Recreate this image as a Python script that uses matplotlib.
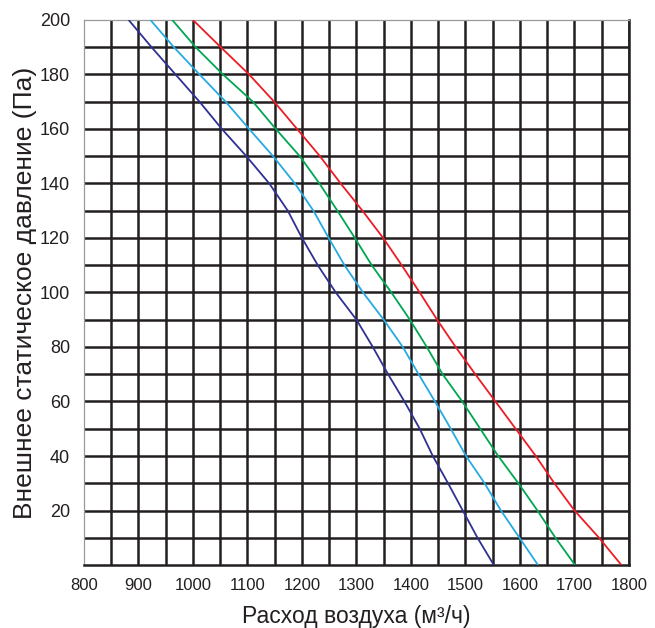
import matplotlib
matplotlib.use("Agg")
import matplotlib.pyplot as plt
import numpy as np

plt.rcParams['font.family'] = ['Liberation Sans', 'DejaVu Sans']

# Pressure levels (Pa) at which the curves were read
pressure = [200, 190, 180, 170, 160, 150, 140, 130, 120, 110, 100,
            90, 80, 70, 60, 50, 40, 30, 20, 10, 0]

# Airflow (m3/h) for each curve at the pressure levels above
flow_navy = [882, 924, 968, 1012, 1053, 1098, 1140, 1174, 1200, 1229, 1262,
             1300, 1330, 1358, 1388, 1416, 1440, 1468, 1495, 1522, 1552]
flow_sky = [922, 965, 1012, 1060, 1103, 1147, 1187, 1221, 1249, 1278, 1312,
            1350, 1385, 1414, 1444, 1473, 1501, 1535, 1565, 1599, 1633]
flow_green = [962, 1005, 1055, 1110, 1152, 1196, 1232, 1265, 1297, 1328, 1364,
              1398, 1429, 1458, 1494, 1527, 1560, 1597, 1632, 1665, 1701]
flow_red = [1000, 1051, 1103, 1149, 1191, 1233, 1271, 1311, 1349, 1383, 1416,
            1448, 1482, 1518, 1555, 1592, 1629, 1663, 1700, 1745, 1786]

series = [flow_navy, flow_sky, flow_green, flow_red]
colors = ['#2e3192', '#27aae1', '#00a651', '#ed1c24']

x_ticks = [800, 900, 1000, 1100, 1200, 1300, 1400, 1500, 1600, 1700, 1800]
y_ticks = [20, 40, 60, 80, 100, 120, 140, 160, 180, 200]

fig = plt.figure(figsize=(6.55, 6.28), dpi=100)
ax = fig.add_axes([0.1282, 0.1003, 0.9603 - 0.1282, 0.9682 - 0.1003])

ax.set_xlim(800, 1800)
ax.set_ylim(0, 200)

grid_color = '#231f20'
grid_lw = 1.8
for gx in np.arange(850, 1801, 50):
    ax.axvline(gx, color=grid_color, lw=grid_lw, zorder=1)
for gy in np.arange(10, 191, 10):
    ax.axhline(gy, color=grid_color, lw=grid_lw, zorder=1)

for flows, c in zip(series, colors):
    ax.plot(flows, pressure, color=c, lw=1.3, zorder=3,
            solid_capstyle='butt', solid_joinstyle='round')

for side in ['left', 'top']:
    ax.spines[side].set_color('#9a9a9a')
    ax.spines[side].set_linewidth(0.9)
for side in ['bottom', 'right']:
    ax.spines[side].set_color(grid_color)
    ax.spines[side].set_linewidth(grid_lw)

ax.set_xticks(x_ticks)
ax.set_yticks(y_ticks)
ax.tick_params(length=0, colors='#231f20')
ax.tick_params(axis='x', labelsize=12, pad=9)
ax.tick_params(axis='y', labelsize=13, pad=10)

ax.set_xlabel('Расход воздуха (м³/ч)', fontsize=16.5, color='#231f20', labelpad=9)
ax.set_ylabel('Внешнее статическое давление (Па)', fontsize=19, color='#231f20', labelpad=2)

fig.savefig('out.png', dpi=100)
